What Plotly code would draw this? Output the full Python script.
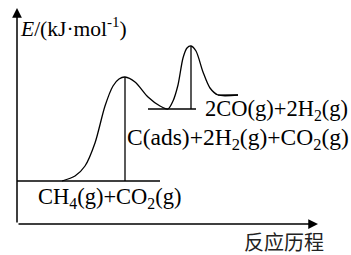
import plotly.graph_objects as go

# Reaction coordinate (arbitrary units) and energy (arbitrary units)
curve_x = [62, 75, 85, 95, 105, 113, 119, 125, 135, 148, 160, 168, 173, 178, 183, 187, 191, 196, 203, 210, 218, 238]
curve_e = [0, 5, 15, 38, 75, 95, 102, 104, 99, 84, 75, 72, 80, 96, 123, 133, 135, 130, 109, 93, 86, 86]

# Energy levels: (x_start, x_end, energy)
level_names = ["reactant", "intermediate", "product"]
level_x0 = [17, 148, 218]
level_x1 = [160, 196, 238]
level_e = [0, 72, 86]

# Transition states (vertical markers): x, bottom energy, top energy
ts_x = [125, 191]
ts_e0 = [0, 72]
ts_e1 = [104, 135]

labels = ["2CO(g)+2H<sub>2</sub>(g)", "C(ads)+2H<sub>2</sub>(g)+CO<sub>2</sub>(g)", "CH<sub>4</sub>(g)+CO<sub>2</sub>(g)"]
label_x = [203, 125, 36]
label_e = [71, 42, -17]
label_size = [22.5, 23.5, 22.5]

axis_origin = (17, -43)
x_axis_end = 318
y_axis_end = 173
y_title = "<i>E</i>/(kJ·mol<sup>-1</sup>)"
x_title = "反应历程"

fig = go.Figure()
fig.add_trace(go.Scatter(x=curve_x, y=curve_e, mode="lines",
                         line=dict(color="black", width=1.3, shape="spline", smoothing=0.8),
                         hoverinfo="skip", showlegend=False))
for x0, x1, e in zip(level_x0, level_x1, level_e):
    fig.add_trace(go.Scatter(x=[x0, x1], y=[e, e], mode="lines",
                             line=dict(color="black", width=1.3), showlegend=False, hoverinfo="skip"))
for x, e0, e1 in zip(ts_x, ts_e0, ts_e1):
    fig.add_trace(go.Scatter(x=[x, x], y=[e0, e1], mode="lines",
                             line=dict(color="black", width=1.3), showlegend=False, hoverinfo="skip"))

serif = "Liberation Serif, Times New Roman, serif"
for t, x, e, s in zip(labels, label_x, label_e, label_size):
    fig.add_annotation(x=x, y=e, text=t, showarrow=False, xanchor="left", yanchor="middle",
                       font=dict(family=serif, size=s, color="black"))

# axes with arrows
fig.add_annotation(x=x_axis_end, y=axis_origin[1], ax=axis_origin[0], ay=axis_origin[1],
                   xref="x", yref="y", axref="x", ayref="y", showarrow=True,
                   arrowhead=2, arrowsize=1.3, arrowwidth=1.5, arrowcolor="black", text="")
fig.add_annotation(x=axis_origin[0], y=y_axis_end, ax=axis_origin[0], ay=axis_origin[1],
                   xref="x", yref="y", axref="x", ayref="y", showarrow=True,
                   arrowhead=2, arrowsize=1.3, arrowwidth=1.5, arrowcolor="black", text="")
fig.add_annotation(x=18, y=154, text=y_title, showarrow=False, xanchor="left", yanchor="middle",
                   font=dict(family=serif, size=21.5, color="black"))
fig.add_annotation(x=242, y=-60, text=x_title, showarrow=False, xanchor="left", yanchor="middle",
                   font=dict(family="Noto Sans CJK SC", size=20, color="#222"))

fig.update_layout(width=351, height=255, margin=dict(l=0, r=0, t=0, b=0),
                  paper_bgcolor="white", plot_bgcolor="white",
                  xaxis=dict(range=[0, 351], visible=False, fixedrange=True),
                  yaxis=dict(range=[-74, 181], visible=False, fixedrange=True))
fig.write_html("out.html", config={"displayModeBar": False},
               post_script="document.body.style.margin='0';document.body.style.overflow='hidden';")
